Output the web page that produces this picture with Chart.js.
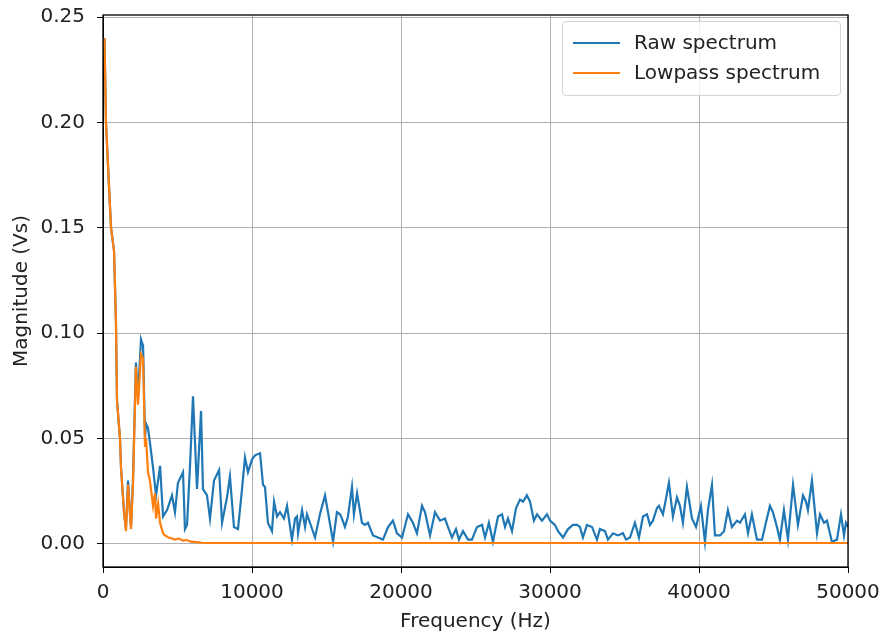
<!DOCTYPE html>
<html>
<head>
<meta charset="utf-8">
<script src="https://cdn.jsdelivr.net/npm/chart.js@4/dist/chart.umd.min.js"></script>
<style>
  body { margin: 0; background: #fff; }
  #wrap { position: relative; width: 886px; height: 636px; }
  #legend {
    position: absolute; left: 562px; top: 21px; width: 277px; height: 73px;
    border: 1px solid #d5d5d5; border-radius: 4px; background: rgba(255,255,255,0.8);
    font-family: "DejaVu Sans", sans-serif; font-size: 20px; color: #222;
  }
  .row { position: absolute; left: 0; height: 24px; }
  .swatch { position: absolute; left: 10px; width: 47px; height: 2px; }
  .lbl { position: absolute; left: 71px; top: -1px; white-space: nowrap; }
</style>
</head>
<body>
<div id="wrap">
  <canvas id="chart" width="886" height="636"></canvas>
  <div id="legend">
    <div class="row" style="top:9px"><div class="swatch" style="top:11px;background:#1f77b4"></div><div class="lbl">Raw spectrum</div></div>
    <div class="row" style="top:39px"><div class="swatch" style="top:11px;background:#ff7f0e"></div><div class="lbl">Lowpass spectrum</div></div>
  </div>
</div>
<script>
// values
const rawFreqHz = [100, 200, 400, 540, 740, 870, 940, 1140, 1210, 1410, 1540, 1680, 1810, 1880, 2010, 2210, 2350, 2550, 2690, 2820,
  2890, 3020, 3150, 3360, 3560, 3830, 4030, 4300, 4630, 4830, 5030, 5370, 5500, 5640, 5840, 6040, 6310, 6580, 6710, 6980,
  7180, 7450, 7790, 7990, 8320, 8520, 8790, 9060, 9330, 9530, 9730, 10000, 10200, 10540, 10740, 10870, 11070, 11340, 11480, 11680,
  11880, 12150, 12350, 12680, 12890, 13020, 13090, 13360, 13560, 13690, 13890, 14230, 14560, 14900, 15100, 15440, 15700, 15910, 16040, 16240,
  16440, 16710, 16840, 17050, 17380, 17580, 17780, 18120, 18460, 18790, 19130, 19460, 19730, 20070, 20470, 20800, 21070, 21410, 21610, 21950,
  22280, 22620, 22950, 23150, 23420, 23690, 23890, 24160, 24500, 24760, 25100, 25440, 25640, 25900, 26170, 26510, 26780, 26980, 27180, 27450,
  27720, 27990, 28190, 28450, 28660, 28920, 29130, 29460, 29800, 30000, 30330, 30540, 30870, 31210, 31540, 31810, 32010, 32210, 32480, 32820,
  33150, 33350, 33690, 33890, 34230, 34560, 34900, 35100, 35370, 35700, 35970, 36240, 36510, 36710, 36910, 37180, 37310, 37580, 37720, 37980,
  38250, 38520, 38720, 38920, 39190, 39530, 39800, 40130, 40400, 40600, 40870, 41070, 41410, 41680, 41940, 42210, 42550, 42750, 43080, 43290,
  43550, 43890, 44230, 44490, 44760, 44960, 45230, 45430, 45700, 45970, 46310, 46640, 46980, 47180, 47310, 47580, 47920, 48120, 48390, 48590,
  48920, 49260, 49530, 49730, 49860, 50000];
const rawMag = [0.240, 0.200, 0.170, 0.150, 0.139, 0.105, 0.068, 0.050, 0.036, 0.015, 0.007, 0.030, 0.015, 0.008, 0.030, 0.086, 0.070, 0.097, 0.094, 0.050,
  0.057, 0.055, 0.048, 0.036, 0.023, 0.037, 0.013, 0.016, 0.023, 0.015, 0.029, 0.034, 0.007, 0.009, 0.037, 0.070, 0.026, 0.063, 0.026, 0.023,
  0.012, 0.030, 0.035, 0.010, 0.022, 0.032, 0.008, 0.007, 0.026, 0.041, 0.034, 0.040, 0.042, 0.043, 0.028, 0.027, 0.010, 0.006, 0.020, 0.013,
  0.015, 0.012, 0.018, 0.002, 0.012, 0.013, 0.005, 0.016, 0.008, 0.014, 0.010, 0.003, 0.014, 0.023, 0.015, 0.001, 0.015, 0.014, 0.012, 0.008,
  0.013, 0.027, 0.014, 0.024, 0.010, 0.009, 0.010, 0.004, 0.003, 0.002, 0.008, 0.011, 0.005, 0.003, 0.014, 0.010, 0.005, 0.018, 0.015, 0.004,
  0.015, 0.011, 0.012, 0.008, 0.003, 0.007, 0.002, 0.006, 0.002, 0.002, 0.008, 0.009, 0.003, 0.010, 0.001, 0.013, 0.014, 0.008, 0.012, 0.006,
  0.017, 0.021, 0.020, 0.023, 0.020, 0.011, 0.014, 0.011, 0.014, 0.011, 0.009, 0.006, 0.003, 0.007, 0.009, 0.009, 0.008, 0.003, 0.009, 0.008,
  0.002, 0.007, 0.006, 0.002, 0.005, 0.004, 0.005, 0.002, 0.003, 0.010, 0.003, 0.013, 0.014, 0.009, 0.011, 0.017, 0.018, 0.014, 0.019, 0.029,
  0.013, 0.022, 0.018, 0.010, 0.027, 0.012, 0.008, 0.018, 0.001, 0.016, 0.028, 0.004, 0.004, 0.006, 0.016, 0.008, 0.011, 0.010, 0.014, 0.005,
  0.014, 0.002, 0.002, 0.010, 0.018, 0.015, 0.008, 0.002, 0.016, 0.002, 0.028, 0.009, 0.023, 0.020, 0.016, 0.030, 0.005, 0.014, 0.010, 0.011,
  0.001, 0.002, 0.014, 0.004, 0.010, 0.008];

const lowFreqHz = [100, 200, 400, 540, 740, 870, 940, 1140, 1210, 1410, 1540, 1680, 1810, 1880, 2010, 2210, 2350, 2550, 2690, 2820,
  2890, 3020, 3150, 3360, 3490, 3560, 3700, 3830, 4030, 4160, 4400, 4630, 4830, 5100, 5370, 5640, 5900, 6300, 6640, 7000, 50000];
const lowMag = [0.240, 0.200, 0.170, 0.150, 0.139, 0.105, 0.068, 0.050, 0.036, 0.015, 0.006, 0.028, 0.014, 0.007, 0.028, 0.084, 0.066, 0.090, 0.088, 0.046,
  0.050, 0.034, 0.030, 0.018, 0.024, 0.012, 0.019, 0.010, 0.005, 0.004, 0.003, 0.0025, 0.002, 0.0025, 0.0015, 0.0018, 0.001, 0.0008, 0.0005, 0.0004, 0.0004];

const xTicks = [0, 10000, 20000, 30000, 40000, 50000];
const yTicks = [0, 0.05, 0.10, 0.15, 0.20, 0.25];

const pairs = (xs, ys) => xs.map((x, i) => ({ x: x, y: ys[i] }));
const font = { family: 'DejaVu Sans', size: 20 };

const frame = {
  id: 'frame',
  afterDraw(chart) {
    const a = chart.chartArea, c = chart.ctx;
    c.save();
    c.strokeStyle = '#000';
    c.lineWidth = 1.3;
    c.strokeRect(a.left, a.top, a.right - a.left, a.bottom - a.top);
    c.restore();
  }
};

new Chart(document.getElementById('chart'), {
  type: 'line',
  data: {
    datasets: [
      { label: 'Raw spectrum', data: pairs(rawFreqHz, rawMag), borderColor: '#1f77b4', order: 1 },
      { label: 'Lowpass spectrum', data: pairs(lowFreqHz, lowMag), borderColor: '#ff7f0e', order: 0 }
    ]
  },
  options: {
    responsive: false,
    animation: false,
    layout: { padding: { left: 0, right: 38, top: 15, bottom: 0 } },
    elements: {
      line: { borderWidth: 2.2, tension: 0, fill: false },
      point: { radius: 0 }
    },
    plugins: { legend: { display: false }, tooltip: { enabled: false } },
    scales: {
      x: {
        type: 'linear', min: 0, max: 50000,
        afterFit(s) { s.height = 69; s.paddingLeft = 0; s.paddingRight = 0; },
        afterBuildTicks(s) { s.ticks = xTicks.map(v => ({ value: v })); },
        grid: { color: '#b0b0b0', tickColor: '#000', tickLength: 6, lineWidth: 1 },
        border: { color: '#000' },
        ticks: { font: font, color: '#222', padding: 8, maxRotation: 0, callback: v => String(v) },
        title: { display: true, text: 'Frequency (Hz)', font: font, color: '#222', padding: { top: 0, bottom: 2 } }
      },
      y: {
        type: 'linear', min: -0.011, max: 0.251,
        afterFit(s) { s.width = 103; s.paddingTop = 0; s.paddingBottom = 0; },
        afterBuildTicks(s) { s.ticks = yTicks.map(v => ({ value: v })); },
        grid: { color: '#b0b0b0', tickColor: '#000', tickLength: 6, lineWidth: 1 },
        border: { color: '#000' },
        ticks: { font: font, color: '#222', padding: 12, callback: v => v.toFixed(2) },
        title: { display: true, text: 'Magnitude (Vs)', font: font, color: '#222', padding: { top: 10, bottom: 0 } }
      }
    }
  },
  plugins: [frame]
});
</script>
</body>
</html>
